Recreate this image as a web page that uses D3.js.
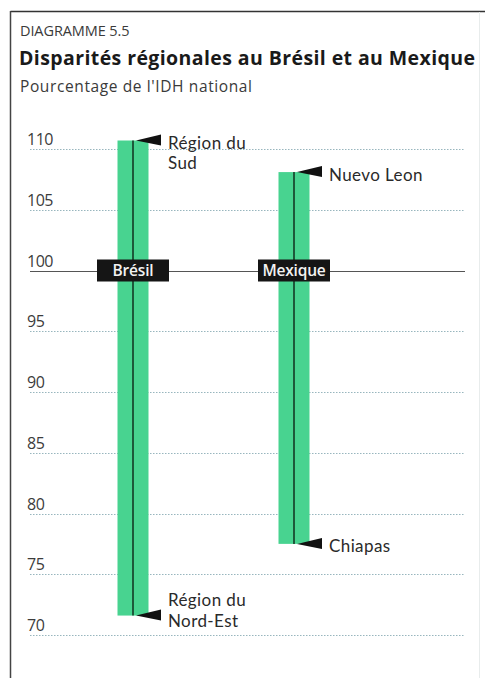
<!DOCTYPE html>
<html>
<head>
<meta charset="utf-8">
<script src="https://cdn.jsdelivr.net/npm/d3@7"></script>
<style>
  html, body { margin: 0; padding: 0; background: #fff; }
  svg { display: block; font-family: "Open Sans", "Noto Sans", sans-serif; }
</style>
</head>
<body>
<svg id="chart" width="485" height="678"></svg>
<script>
// Regional HDI range per country, as % of the national HDI
const countries = ["Brésil", "Mexique"];
const highValues = [110.7, 108.1];
const lowValues = [71.6, 77.5];
const highLabels = [["Région du", "Sud"], ["Nuevo Leon"]];
const lowLabels = [["Région du", "Nord-Est"], ["Chiapas"]];
const tickValues = [70, 75, 80, 85, 90, 95, 100, 105, 110];

const svg = d3.select("#chart");

// Frame (top and left rules)
svg.append("line").attr("x1", 10.5).attr("x2", 485).attr("y1", 11.5).attr("y2", 11.5)
  .attr("stroke", "#333").attr("stroke-width", 1.5);
svg.append("line").attr("x1", 10.5).attr("x2", 10.5).attr("y1", 11).attr("y2", 678)
  .attr("stroke", "#444").attr("stroke-width", 1.5);
svg.append("line").attr("x1", 479.5).attr("x2", 479.5).attr("y1", 12).attr("y2", 678)
  .attr("stroke", "#e8ecec").attr("stroke-width", 1);

// Titles
svg.append("text").attr("x", 20).attr("y", 36).attr("font-size", 14.5)
  .attr("fill", "#3a3a3a").attr("letter-spacing", -0.1).text("DIAGRAMME 5.5");
svg.append("text").attr("x", 19).attr("y", 65).attr("font-size", 19.5)
  .attr("font-weight", 700).attr("fill", "#1a1a1a")
  .attr("textLength", 456).attr("lengthAdjust", "spacing")
  .text("Disparités régionales au Brésil et au Mexique");
svg.append("text").attr("x", 20).attr("y", 92).attr("font-size", 15.5)
  .attr("fill", "#3a3a3a").attr("textLength", 232).attr("lengthAdjust", "spacing")
  .text("Pourcentage de l'IDH national");

// Scales
const y = d3.scaleLinear().domain([70, 110]).range([635, 149]);
const x = d3.scalePoint().domain(countries).range([133, 294]);
const gridX0 = 30, gridX1 = 465;
const barW = 31;

// Grid lines and tick labels
const ticks = svg.append("g");
ticks.selectAll("line").data(tickValues.filter(v => v !== 100)).join("line")
  .attr("x1", gridX0).attr("x2", gridX1)
  .attr("y1", d => Math.round(y(d)) + 0.5).attr("y2", d => Math.round(y(d)) + 0.5)
  .attr("stroke", "#98b6be").attr("stroke-width", 1.2).attr("stroke-dasharray", "1.5,1.5");
ticks.selectAll("text").data(tickValues).join("text")
  .attr("x", 27).attr("y", d => y(d) - 4)
  .attr("font-size", 16).attr("fill", "#3c3c3c").attr("letter-spacing", -0.5)
  .text(d => d);

// Reference line at 100
svg.append("line").attr("x1", gridX0).attr("x2", gridX1)
  .attr("y1", Math.round(y(100)) + 0.5).attr("y2", Math.round(y(100)) + 0.5)
  .attr("stroke", "#555").attr("stroke-width", 1.2);

// Range bars
const data = countries.map((c, i) => ({
  country: c, hi: highValues[i], lo: lowValues[i],
  hiLabel: highLabels[i], loLabel: lowLabels[i]
}));

const g = svg.append("g");
g.selectAll("rect.bar").data(data).join("rect").attr("class", "bar")
  .attr("x", d => x(d.country) - barW / 2).attr("width", barW)
  .attr("y", d => y(d.hi)).attr("height", d => y(d.lo) - y(d.hi))
  .attr("fill", "#48d390");
g.selectAll("line.mid").data(data).join("line").attr("class", "mid")
  .attr("x1", d => x(d.country)).attr("x2", d => x(d.country))
  .attr("y1", d => y(d.hi)).attr("y2", d => y(d.lo))
  .attr("stroke", "#143a26").attr("stroke-width", 1.6);

// Flag markers pointing at the extremes
const flag = (cx, cy) => `M${cx + 3},${cy} L${cx + 28},${cy - 6} L${cx + 28},${cy + 5} Z`;
g.selectAll("path.hiFlag").data(data).join("path").attr("class", "hiFlag")
  .attr("d", d => flag(x(d.country), y(d.hi))).attr("fill", "#111");
g.selectAll("path.loFlag").data(data).join("path").attr("class", "loFlag")
  .attr("d", d => flag(x(d.country), y(d.lo))).attr("fill", "#111");

// Extreme labels (one text per line)
const lh = 20.5;
const labelFont = "Lato, 'Open Sans', sans-serif";
data.forEach(d => {
  const lx = x(d.country) + 35;
  d.hiLabel.forEach((s, k) => {
    svg.append("text").attr("x", lx).attr("y", y(d.hi) + 8.5 + k * lh)
      .attr("font-family", labelFont).attr("font-size", 17).attr("fill", "#2a2a2a")
      .attr("letter-spacing", 0.4).text(s);
  });
  const n = d.loLabel.length;
  d.loLabel.forEach((s, k) => {
    svg.append("text").attr("x", lx).attr("y", y(d.lo) + 8 + (k - (n - 1)) * lh + (n > 1 ? 3 : 0))
      .attr("font-family", labelFont).attr("font-size", 17).attr("fill", "#2a2a2a")
      .attr("letter-spacing", 0.4).text(s);
  });
});

// Country tags on the 100 line
const tags = svg.append("g");
data.forEach(d => {
  const cx = x(d.country), cy = y(100);
  const tag = tags.append("g");
  const txt = tag.append("text").attr("x", cx).attr("y", cy + 5.5)
    .attr("text-anchor", "middle").attr("font-size", 15.5).attr("font-weight", 600)
    .attr("fill", "#f2f2f2").attr("letter-spacing", -0.2).text(d.country);
  const w = Math.max(72, txt.node().getComputedTextLength() + 8);
  tag.insert("rect", "text").attr("x", cx - w / 2).attr("y", cy - 11)
    .attr("width", w).attr("height", 22).attr("fill", "#151515");
});
</script>
</body>
</html>
